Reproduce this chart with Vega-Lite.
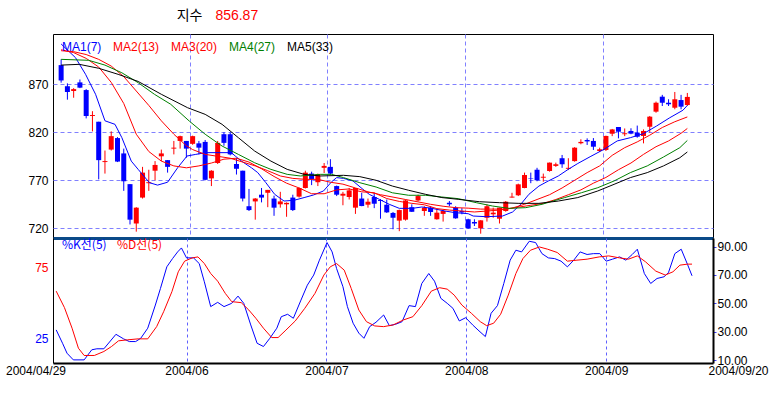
{
"$schema": "https://vega.github.io/schema/vega-lite/v6.json",
"padding": {"left": 5, "top": 8, "right": 0, "bottom": 0},
"bounds": "flush",
"spacing": 0,
"resolve": {"scale": {"color": "independent", "y": "independent"}, "legend": {"color": "independent"}},
"config": {
  "view": {"stroke": "black", "strokeWidth": 1},
  "font": "Liberation Sans",
  "axis": {"labelFont": "Liberation Sans", "labelFontSize": 12, "labelColor": "#000000", "title": null},
  "legend": {"labelFont": "Liberation Sans", "labelFontSize": 12}
},
"datasets": {
"candles": [
{"i":0,"o":890,"h":896,"l":871.7,"c":874},{"i":1,"o":868,"h":871,"l":854,"c":862},{"i":2,"o":863,"h":866,"l":856,"c":865},{"i":3,"o":872,"h":875,"l":866,"c":866.5},{"i":4,"o":864,"h":865,"l":834.5,"c":837},{"i":5,"o":837,"h":842,"l":821,"c":838},{"i":6,"o":831,"h":831,"l":771,"c":791},{"i":7,"o":789,"h":801,"l":777,"c":790},{"i":8,"o":802,"h":821,"l":801,"c":816},{"i":9,"o":814,"h":815,"l":789,"c":789.5},
{"i":10,"o":798,"h":803,"l":759,"c":769},{"i":11,"o":766,"h":766,"l":724,"c":729},{"i":12,"o":725,"h":742,"l":716.5,"c":741.5},{"i":13,"o":752,"h":784,"l":751,"c":778},{"i":14,"o":767,"h":781,"l":759,"c":768},{"i":15,"o":780,"h":790,"l":770,"c":786},{"i":16,"o":795,"h":802,"l":790,"c":798},{"i":17,"o":791,"h":791,"l":778,"c":784},{"i":18,"o":803,"h":811,"l":797,"c":804},{"i":19,"o":811,"h":816.5,"l":803,"c":816},
{"i":20,"o":811,"h":811,"l":793.5,"c":803},{"i":21,"o":808,"h":816.5,"l":807,"c":816},{"i":22,"o":808.5,"h":811,"l":797,"c":804},{"i":23,"o":810,"h":812,"l":770,"c":770.5},{"i":24,"o":772,"h":780.5,"l":764,"c":780},{"i":25,"o":788,"h":811,"l":787,"c":809},{"i":26,"o":818,"h":820,"l":806,"c":809},{"i":27,"o":818,"h":820,"l":796,"c":797},{"i":28,"o":787,"h":793,"l":776,"c":782},{"i":29,"o":780,"h":780,"l":748,"c":751},
{"i":30,"o":743,"h":761,"l":738,"c":739},{"i":31,"o":748,"h":751.5,"l":729,"c":751},{"i":32,"o":755,"h":762,"l":747,"c":752},{"i":33,"o":757,"h":760,"l":742,"c":760},{"i":34,"o":751,"h":754,"l":733,"c":741.5},{"i":35,"o":745,"h":758,"l":741.5,"c":748},{"i":36,"o":745,"h":747,"l":732,"c":746.5},{"i":37,"o":752,"h":755,"l":738,"c":739},{"i":38,"o":753,"h":762.5,"l":752,"c":762},{"i":39,"o":762,"h":780,"l":761.5,"c":778},
{"i":40,"o":777,"h":779,"l":765,"c":771},{"i":41,"o":768,"h":777,"l":764,"c":776.5},{"i":42,"o":783,"h":788,"l":777.6,"c":785},{"i":43,"o":784,"h":792,"l":776,"c":777},{"i":44,"o":764,"h":764.5,"l":753.6,"c":755},{"i":45,"o":754,"h":758,"l":744,"c":756},{"i":46,"o":752.6,"h":762,"l":750,"c":759.5},{"i":47,"o":741.5,"h":762,"l":735,"c":762},{"i":48,"o":751,"h":757,"l":743,"c":743.2},{"i":49,"o":744.6,"h":751,"l":741.5,"c":747.7},
{"i":50,"o":752.6,"h":757,"l":741,"c":745.6},{"i":51,"o":749.5,"h":750.5,"l":730,"c":748.5},{"i":52,"o":744.6,"h":750,"l":736,"c":736.6},{"i":53,"o":736,"h":737,"l":719,"c":731},{"i":54,"o":728,"h":739.5,"l":717,"c":739},{"i":55,"o":729,"h":750,"l":728,"c":749},{"i":56,"o":742,"h":745,"l":737,"c":737.2},{"i":57,"o":749,"h":755,"l":748,"c":753.6},{"i":58,"o":738,"h":743,"l":733,"c":741.5},{"i":59,"o":741.5,"h":743,"l":733,"c":737},
{"i":60,"o":729.4,"h":740,"l":729,"c":736.3},{"i":61,"o":735,"h":739,"l":727,"c":738},{"i":62,"o":746.6,"h":748.4,"l":743,"c":745},{"i":63,"o":741.5,"h":743,"l":730,"c":730.4},{"i":64,"o":738,"h":741,"l":734.6,"c":736.5},{"i":65,"o":729.4,"h":730,"l":719.5,"c":720},{"i":66,"o":726.6,"h":729.4,"l":722.4,"c":725},{"i":67,"o":720,"h":728.5,"l":714.4,"c":728.3},{"i":68,"o":731,"h":745,"l":727,"c":743},{"i":69,"o":734.6,"h":741.5,"l":731,"c":736.3},
{"i":70,"o":730,"h":741.5,"l":725,"c":741.5},{"i":71,"o":738,"h":748.4,"l":737.3,"c":747.7},{"i":72,"o":752,"h":757,"l":752,"c":753},{"i":73,"o":754.4,"h":766.5,"l":753.6,"c":765.8},{"i":74,"o":762,"h":778,"l":761.7,"c":775.5},{"i":75,"o":772,"h":778,"l":767,"c":771.5},{"i":76,"o":781,"h":783,"l":769,"c":770},{"i":77,"o":772.7,"h":777,"l":768.5,"c":773.7},{"i":78,"o":779.7,"h":788.5,"l":779,"c":788.4},{"i":79,"o":785,"h":788.4,"l":784,"c":786.7},
{"i":80,"o":793,"h":796.4,"l":783,"c":786.7},{"i":81,"o":782,"h":793,"l":780.7,"c":783},{"i":82,"o":790,"h":804.5,"l":789.4,"c":804},{"i":83,"o":808.6,"h":812.7,"l":807.5,"c":810},{"i":84,"o":812,"h":813.7,"l":806.8,"c":810.5},{"i":85,"o":811,"h":814,"l":801.6,"c":805},{"i":86,"o":800.5,"h":804,"l":799.5,"c":802.3},{"i":87,"o":801.6,"h":816.5,"l":800.5,"c":816.2},{"i":88,"o":818.5,"h":823.5,"l":816,"c":823},{"i":89,"o":825.5,"h":825.5,"l":813.7,"c":820.6},
{"i":90,"o":818,"h":824,"l":816,"c":819},{"i":91,"o":821.4,"h":824.2,"l":818,"c":818.6},{"i":92,"o":819.6,"h":827,"l":814.4,"c":815.4},{"i":93,"o":816.2,"h":823,"l":808.5,"c":821.4},{"i":94,"o":825.8,"h":837,"l":819.6,"c":836.3},{"i":95,"o":841.5,"h":852,"l":840.4,"c":850.8},{"i":96,"o":857.1,"h":859,"l":847.4,"c":850.8},{"i":97,"o":850.8,"h":854.4,"l":847.4,"c":849.2},{"i":98,"o":845.6,"h":862,"l":844,"c":854.4},{"i":99,"o":853.6,"h":859,"l":844,"c":846.7},
{"i":100,"o":848.4,"h":861,"l":847.4,"c":856.87}
],
"ma": [
{"s":"MA1(7)","i":0,"v":912},{"s":"MA1(7)","i":2.3,"v":897.7},{"s":"MA1(7)","i":3.9,"v":880.4},{"s":"MA1(7)","i":5.5,"v":859.6},{"s":"MA1(7)","i":7,"v":832},{"s":"MA1(7)","i":8.6,"v":828.3},{"s":"MA1(7)","i":9.7,"v":814.4},{"s":"MA1(7)","i":11.2,"v":790},{"s":"MA1(7)","i":12.3,"v":781.4},{"s":"MA1(7)","i":14.1,"v":767.5},{"s":"MA1(7)","i":15.4,"v":765},{"s":"MA1(7)","i":17,"v":768},{"s":"MA1(7)","i":18.6,"v":783},{"s":"MA1(7)","i":20.1,"v":795.3},{"s":"MA1(7)","i":21.5,"v":797},{"s":"MA1(7)","i":23.1,"v":798.8},{"s":"MA1(7)","i":27.2,"v":798.8},{"s":"MA1(7)","i":27.8,"v":795.3},{"s":"MA1(7)","i":28.8,"v":790},{"s":"MA1(7)","i":30.4,"v":783},{"s":"MA1(7)","i":31.4,"v":778},{"s":"MA1(7)","i":32.7,"v":767.5},{"s":"MA1(7)","i":34.1,"v":755.4},{"s":"MA1(7)","i":35.6,"v":748.4},{"s":"MA1(7)","i":37.2,"v":749.2},{"s":"MA1(7)","i":38.8,"v":752},{"s":"MA1(7)","i":40.3,"v":754.7},{"s":"MA1(7)","i":41.9,"v":758.9},{"s":"MA1(7)","i":43.2,"v":768.5},{"s":"MA1(7)","i":44,"v":772.8},{"s":"MA1(7)","i":45.1,"v":772},{"s":"MA1(7)","i":46.6,"v":769.3},{"s":"MA1(7)","i":48.2,"v":760.6},{"s":"MA1(7)","i":49.2,"v":755.4},{"s":"MA1(7)","i":50.8,"v":750.2},{"s":"MA1(7)","i":52.4,"v":745},{"s":"MA1(7)","i":54,"v":740.8},{"s":"MA1(7)","i":56.1,"v":740.8},{"s":"MA1(7)","i":57.6,"v":742.2},{"s":"MA1(7)","i":59.2,"v":740.8},{"s":"MA1(7)","i":61.3,"v":738},{"s":"MA1(7)","i":62.9,"v":736.3},{"s":"MA1(7)","i":65,"v":735.2},{"s":"MA1(7)","i":65.8,"v":732.8},{"s":"MA1(7)","i":67.9,"v":732.1},{"s":"MA1(7)","i":70.5,"v":732.8},{"s":"MA1(7)","i":72.1,"v":737},{"s":"MA1(7)","i":73.4,"v":745},{"s":"MA1(7)","i":74.7,"v":755.4},{"s":"MA1(7)","i":76.3,"v":764},{"s":"MA1(7)","i":77.8,"v":769.3},{"s":"MA1(7)","i":79.4,"v":774.5},{"s":"MA1(7)","i":81,"v":781.5},{"s":"MA1(7)","i":82.5,"v":787.5},{"s":"MA1(7)","i":84.6,"v":795},{"s":"MA1(7)","i":86.7,"v":802.3},{"s":"MA1(7)","i":88.8,"v":811},{"s":"MA1(7)","i":90.9,"v":814.4},{"s":"MA1(7)","i":93,"v":818.6},{"s":"MA1(7)","i":95.1,"v":826.6},{"s":"MA1(7)","i":97.2,"v":835.2},{"s":"MA1(7)","i":99.3,"v":843},{"s":"MA1(7)","i":100,"v":848},
{"s":"MA2(13)","i":0,"v":906},{"s":"MA2(13)","i":2,"v":903},{"s":"MA2(13)","i":4,"v":897},{"s":"MA2(13)","i":6,"v":888},{"s":"MA2(13)","i":8,"v":872},{"s":"MA2(13)","i":10,"v":850},{"s":"MA2(13)","i":12,"v":818},{"s":"MA2(13)","i":14,"v":800},{"s":"MA2(13)","i":16,"v":790},{"s":"MA2(13)","i":18,"v":785},{"s":"MA2(13)","i":20,"v":783},{"s":"MA2(13)","i":22,"v":785},{"s":"MA2(13)","i":24,"v":788},{"s":"MA2(13)","i":26,"v":792},{"s":"MA2(13)","i":28,"v":793},{"s":"MA2(13)","i":30,"v":789},{"s":"MA2(13)","i":32,"v":782},{"s":"MA2(13)","i":34,"v":774},{"s":"MA2(13)","i":36,"v":767},{"s":"MA2(13)","i":38,"v":762},{"s":"MA2(13)","i":40,"v":756},{"s":"MA2(13)","i":42,"v":756},{"s":"MA2(13)","i":44,"v":760},{"s":"MA2(13)","i":46,"v":761},{"s":"MA2(13)","i":48,"v":758},{"s":"MA2(13)","i":50,"v":757},{"s":"MA2(13)","i":52,"v":751},{"s":"MA2(13)","i":54,"v":748},{"s":"MA2(13)","i":56,"v":746},{"s":"MA2(13)","i":58,"v":744.5},{"s":"MA2(13)","i":60,"v":740.5},{"s":"MA2(13)","i":62,"v":739},{"s":"MA2(13)","i":64,"v":738},{"s":"MA2(13)","i":66,"v":737},{"s":"MA2(13)","i":68,"v":738},{"s":"MA2(13)","i":70,"v":739},{"s":"MA2(13)","i":72,"v":741},{"s":"MA2(13)","i":74,"v":745},{"s":"MA2(13)","i":76,"v":750},{"s":"MA2(13)","i":78,"v":755},{"s":"MA2(13)","i":80,"v":762},{"s":"MA2(13)","i":82,"v":770},{"s":"MA2(13)","i":84,"v":778},{"s":"MA2(13)","i":86,"v":785},{"s":"MA2(13)","i":88,"v":796},{"s":"MA2(13)","i":90,"v":804},{"s":"MA2(13)","i":92,"v":810},{"s":"MA2(13)","i":94,"v":817},{"s":"MA2(13)","i":96,"v":825},{"s":"MA2(13)","i":98,"v":831},{"s":"MA2(13)","i":100,"v":836},
{"s":"MA3(20)","i":0,"v":905},{"s":"MA3(20)","i":2,"v":904},{"s":"MA3(20)","i":4,"v":901},{"s":"MA3(20)","i":6,"v":896},{"s":"MA3(20)","i":8,"v":889},{"s":"MA3(20)","i":10,"v":878},{"s":"MA3(20)","i":12,"v":863},{"s":"MA3(20)","i":14,"v":848},{"s":"MA3(20)","i":16,"v":832},{"s":"MA3(20)","i":18,"v":818},{"s":"MA3(20)","i":20,"v":806},{"s":"MA3(20)","i":21,"v":802},{"s":"MA3(20)","i":23,"v":797},{"s":"MA3(20)","i":25,"v":795},{"s":"MA3(20)","i":27,"v":793},{"s":"MA3(20)","i":29,"v":789},{"s":"MA3(20)","i":31,"v":785},{"s":"MA3(20)","i":33,"v":780},{"s":"MA3(20)","i":35,"v":774.5},{"s":"MA3(20)","i":37,"v":772},{"s":"MA3(20)","i":39,"v":771},{"s":"MA3(20)","i":41,"v":771},{"s":"MA3(20)","i":43,"v":768},{"s":"MA3(20)","i":45,"v":766},{"s":"MA3(20)","i":47,"v":762},{"s":"MA3(20)","i":49,"v":758},{"s":"MA3(20)","i":51,"v":755},{"s":"MA3(20)","i":53,"v":752.5},{"s":"MA3(20)","i":55,"v":750},{"s":"MA3(20)","i":57,"v":747.5},{"s":"MA3(20)","i":59,"v":745},{"s":"MA3(20)","i":61,"v":743},{"s":"MA3(20)","i":63,"v":741.5},{"s":"MA3(20)","i":65,"v":741},{"s":"MA3(20)","i":67,"v":740},{"s":"MA3(20)","i":69,"v":740},{"s":"MA3(20)","i":71,"v":740},{"s":"MA3(20)","i":73,"v":742},{"s":"MA3(20)","i":75,"v":744},{"s":"MA3(20)","i":77,"v":746},{"s":"MA3(20)","i":79,"v":750},{"s":"MA3(20)","i":81,"v":755},{"s":"MA3(20)","i":83,"v":760},{"s":"MA3(20)","i":85,"v":767},{"s":"MA3(20)","i":87,"v":773},{"s":"MA3(20)","i":89,"v":781},{"s":"MA3(20)","i":91,"v":788},{"s":"MA3(20)","i":93,"v":797},{"s":"MA3(20)","i":95,"v":805},{"s":"MA3(20)","i":97,"v":811},{"s":"MA3(20)","i":99,"v":819},{"s":"MA3(20)","i":100,"v":824},
{"s":"MA4(27)","i":0,"v":896},{"s":"MA4(27)","i":4.4,"v":895},{"s":"MA4(27)","i":7,"v":890},{"s":"MA4(27)","i":9.7,"v":882},{"s":"MA4(27)","i":12.3,"v":871.7},{"s":"MA4(27)","i":14.9,"v":859.6},{"s":"MA4(27)","i":17.5,"v":849.2},{"s":"MA4(27)","i":20.5,"v":831.5},{"s":"MA4(27)","i":23,"v":818},{"s":"MA4(27)","i":25.7,"v":805.7},{"s":"MA4(27)","i":28.3,"v":797},{"s":"MA4(27)","i":30.9,"v":788.3},{"s":"MA4(27)","i":33.5,"v":781.4},{"s":"MA4(27)","i":36.1,"v":776.2},{"s":"MA4(27)","i":38.2,"v":774.5},{"s":"MA4(27)","i":41.4,"v":776.2},{"s":"MA4(27)","i":43.2,"v":776.2},{"s":"MA4(27)","i":45.1,"v":772.8},{"s":"MA4(27)","i":47.7,"v":767.5},{"s":"MA4(27)","i":50.3,"v":763},{"s":"MA4(27)","i":52.9,"v":757},{"s":"MA4(27)","i":55.5,"v":754.4},{"s":"MA4(27)","i":58.2,"v":754.4},{"s":"MA4(27)","i":60.8,"v":752.6},{"s":"MA4(27)","i":63.4,"v":750.9},{"s":"MA4(27)","i":66.3,"v":746.7},{"s":"MA4(27)","i":68.9,"v":743.2},{"s":"MA4(27)","i":71.5,"v":740.8},{"s":"MA4(27)","i":74.2,"v":741.5},{"s":"MA4(27)","i":76.8,"v":745},{"s":"MA4(27)","i":80.4,"v":752},{"s":"MA4(27)","i":83.1,"v":757.1},{"s":"MA4(27)","i":85.7,"v":762.3},{"s":"MA4(27)","i":88.3,"v":769.3},{"s":"MA4(27)","i":90.9,"v":778},{"s":"MA4(27)","i":93.6,"v":785},{"s":"MA4(27)","i":96.2,"v":794.3},{"s":"MA4(27)","i":98.8,"v":804},{"s":"MA4(27)","i":100,"v":811.5},
{"s":"MA5(33)","i":0,"v":890},{"s":"MA5(33)","i":2.9,"v":890.8},{"s":"MA5(33)","i":6,"v":886.7},{"s":"MA5(33)","i":9.1,"v":880.4},{"s":"MA5(33)","i":12.3,"v":873},{"s":"MA5(33)","i":16,"v":859.6},{"s":"MA5(33)","i":20.2,"v":845.6},{"s":"MA5(33)","i":23,"v":838.7},{"s":"MA5(33)","i":25.7,"v":828.3},{"s":"MA5(33)","i":28.3,"v":814.4},{"s":"MA5(33)","i":30.9,"v":800.5},{"s":"MA5(33)","i":33.5,"v":790},{"s":"MA5(33)","i":36.1,"v":781.4},{"s":"MA5(33)","i":38.8,"v":776.2},{"s":"MA5(33)","i":41.4,"v":774.5},{"s":"MA5(33)","i":45.1,"v":775.2},{"s":"MA5(33)","i":47.7,"v":773.8},{"s":"MA5(33)","i":50.3,"v":770},{"s":"MA5(33)","i":52.9,"v":764},{"s":"MA5(33)","i":55.5,"v":759.6},{"s":"MA5(33)","i":58.2,"v":755.4},{"s":"MA5(33)","i":60.8,"v":752},{"s":"MA5(33)","i":63.4,"v":750.2},{"s":"MA5(33)","i":66.8,"v":747.7},{"s":"MA5(33)","i":70,"v":746.7},{"s":"MA5(33)","i":73.1,"v":746},{"s":"MA5(33)","i":76.3,"v":746},{"s":"MA5(33)","i":79.4,"v":748.4},{"s":"MA5(33)","i":82.5,"v":752},{"s":"MA5(33)","i":85.7,"v":758.9},{"s":"MA5(33)","i":88.3,"v":765.8},{"s":"MA5(33)","i":90.9,"v":772.8},{"s":"MA5(33)","i":93.6,"v":778},{"s":"MA5(33)","i":96.2,"v":785},{"s":"MA5(33)","i":98.8,"v":793.5},{"s":"MA5(33)","i":100,"v":799.5}
],
"sto": [
{"s":"%K선(5)","i":0,"v":31.3},{"s":"%K선(5)","i":1,"v":21.9},{"s":"%K선(5)","i":1.7,"v":14.9},{"s":"%K선(5)","i":2.7,"v":10.2},{"s":"%K선(5)","i":4.4,"v":10.2},{"s":"%K선(5)","i":5.6,"v":17.3},{"s":"%K선(5)","i":6.4,"v":18},{"s":"%K선(5)","i":7.5,"v":18},{"s":"%K선(5)","i":9.4,"v":28.2},{"s":"%K선(5)","i":10.6,"v":25},{"s":"%K선(5)","i":11.5,"v":23.1},{"s":"%K선(5)","i":12.5,"v":23.1},{"s":"%K선(5)","i":13.3,"v":25.4},{"s":"%K선(5)","i":14.4,"v":32.5},{"s":"%K선(5)","i":15.6,"v":48.8},{"s":"%K선(5)","i":16.4,"v":60.5},{"s":"%K선(5)","i":17.4,"v":75.7},{"s":"%K선(5)","i":18.3,"v":81.5},{"s":"%K선(5)","i":19.1,"v":86.2},{"s":"%K선(5)","i":19.7,"v":89},{"s":"%K선(5)","i":20.5,"v":82},{"s":"%K선(5)","i":21.6,"v":82},{"s":"%K선(5)","i":22.5,"v":78},{"s":"%K선(5)","i":23.3,"v":65.2},{"s":"%K선(5)","i":24.3,"v":47.7},{"s":"%K선(5)","i":25.4,"v":50.7},{"s":"%K선(5)","i":26.4,"v":47.7},{"s":"%K선(5)","i":27.6,"v":50},{"s":"%K선(5)","i":28.6,"v":55.1},{"s":"%K선(5)","i":29.5,"v":50},{"s":"%K선(5)","i":30.6,"v":34.8},{"s":"%K선(5)","i":31.6,"v":21.9},{"s":"%K선(5)","i":32.6,"v":19.6},{"s":"%K선(5)","i":33.6,"v":25.4},{"s":"%K선(5)","i":34.7,"v":32.5},{"s":"%K선(5)","i":35.4,"v":40.6},{"s":"%K선(5)","i":36.4,"v":42.3},{"s":"%K선(5)","i":37.3,"v":39.5},{"s":"%K선(5)","i":38.5,"v":52.3},{"s":"%K선(5)","i":39.5,"v":62.8},{"s":"%K선(5)","i":40.5,"v":69.9},{"s":"%K선(5)","i":41.4,"v":80.4},{"s":"%K선(5)","i":42.6,"v":92.8},{"s":"%K선(5)","i":43.4,"v":86.2},{"s":"%K선(5)","i":44.1,"v":74.5},{"s":"%K선(5)","i":45.1,"v":61.7},{"s":"%K선(5)","i":45.8,"v":47.7},{"s":"%K선(5)","i":46.7,"v":36},{"s":"%K선(5)","i":47.6,"v":29},{"s":"%K선(5)","i":48.4,"v":25.4},{"s":"%K선(5)","i":49.3,"v":33.6},{"s":"%K선(5)","i":50.3,"v":36.7},{"s":"%K선(5)","i":51.5,"v":41.8},{"s":"%K선(5)","i":52.4,"v":34.3},{"s":"%K선(5)","i":53.4,"v":35.3},{"s":"%K선(5)","i":54.4,"v":37.1},{"s":"%K선(5)","i":55.5,"v":48.4},{"s":"%K선(5)","i":56.5,"v":47.7},{"s":"%K선(5)","i":57.5,"v":64},{"s":"%K선(5)","i":58.6,"v":71},{"s":"%K선(5)","i":59.5,"v":65.6},{"s":"%K선(5)","i":60.5,"v":53.5},{"s":"%K선(5)","i":61.5,"v":50},{"s":"%K선(5)","i":62.4,"v":46.5},{"s":"%K선(5)","i":63.4,"v":37.6},{"s":"%K선(5)","i":64.4,"v":39.9},{"s":"%K선(5)","i":65.5,"v":34.8},{"s":"%K선(5)","i":66.5,"v":30.6},{"s":"%K선(5)","i":67.5,"v":26.6},{"s":"%K선(5)","i":68.4,"v":43},{"s":"%K선(5)","i":69.4,"v":48.4},{"s":"%K선(5)","i":70.4,"v":64},{"s":"%K선(5)","i":71.4,"v":80.4},{"s":"%K선(5)","i":72.3,"v":87.4},{"s":"%K선(5)","i":73.2,"v":86.2},{"s":"%K선(5)","i":74.4,"v":93.7},{"s":"%K선(5)","i":75.4,"v":92.8},{"s":"%K선(5)","i":76.4,"v":85},{"s":"%K선(5)","i":77.4,"v":82},{"s":"%K선(5)","i":78.4,"v":81.5},{"s":"%K선(5)","i":79.4,"v":79.7},{"s":"%K선(5)","i":80.4,"v":75.7},{"s":"%K선(5)","i":81.4,"v":80.4},{"s":"%K선(5)","i":82.4,"v":86.2},{"s":"%K선(5)","i":83.5,"v":84.4},{"s":"%K선(5)","i":84.5,"v":85},{"s":"%K선(5)","i":85.5,"v":85},{"s":"%K선(5)","i":86.5,"v":79.7},{"s":"%K선(5)","i":87.5,"v":81.1},{"s":"%K선(5)","i":88.6,"v":82.7},{"s":"%K선(5)","i":89.6,"v":80.4},{"s":"%K선(5)","i":90.6,"v":84.4},{"s":"%K선(5)","i":91.4,"v":88.1},{"s":"%K선(5)","i":92.5,"v":71},{"s":"%K선(5)","i":93.5,"v":64},{"s":"%K선(5)","i":94.5,"v":67.5},{"s":"%K선(5)","i":95.6,"v":68.7},{"s":"%K선(5)","i":96.3,"v":71.7},{"s":"%K선(5)","i":97.3,"v":85},{"s":"%K선(5)","i":98.3,"v":88.1},{"s":"%K선(5)","i":99.3,"v":77.3},{"s":"%K선(5)","i":100,"v":69.4},
{"s":"%D선(5)","i":0,"v":58.6},{"s":"%D선(5)","i":1.3,"v":47},{"s":"%D선(5)","i":2.5,"v":32.5},{"s":"%D선(5)","i":3.5,"v":18.4},{"s":"%D선(5)","i":4.4,"v":13.3},{"s":"%D선(5)","i":6,"v":13.3},{"s":"%D선(5)","i":7.5,"v":16.1},{"s":"%D선(5)","i":8.7,"v":19.6},{"s":"%D선(5)","i":9.8,"v":23.6},{"s":"%D선(5)","i":11.2,"v":24.3},{"s":"%D선(5)","i":12.9,"v":25},{"s":"%D선(5)","i":14.4,"v":25},{"s":"%D선(5)","i":15.8,"v":33.6},{"s":"%D선(5)","i":16.9,"v":44.1},{"s":"%D선(5)","i":18.2,"v":58.2},{"s":"%D선(5)","i":19.2,"v":72.2},{"s":"%D선(5)","i":20.2,"v":79.7},{"s":"%D선(5)","i":21.4,"v":82},{"s":"%D선(5)","i":22.3,"v":82.7},{"s":"%D선(5)","i":23.3,"v":78},{"s":"%D선(5)","i":24.3,"v":71},{"s":"%D선(5)","i":25.4,"v":65.6},{"s":"%D선(5)","i":26.6,"v":57},{"s":"%D선(5)","i":27.6,"v":51.2},{"s":"%D선(5)","i":29.1,"v":50.5},{"s":"%D선(5)","i":30.3,"v":45.3},{"s":"%D선(5)","i":31.4,"v":39.5},{"s":"%D선(5)","i":32.6,"v":32.5},{"s":"%D선(5)","i":33.9,"v":25.9},{"s":"%D선(5)","i":34.9,"v":25.9},{"s":"%D선(5)","i":36,"v":30.6},{"s":"%D선(5)","i":37.6,"v":37.6},{"s":"%D선(5)","i":39.1,"v":46.5},{"s":"%D선(5)","i":40.7,"v":57},{"s":"%D선(5)","i":42.1,"v":69.9},{"s":"%D선(5)","i":43.1,"v":75.7},{"s":"%D선(5)","i":44.1,"v":78},{"s":"%D선(5)","i":45.3,"v":73.4},{"s":"%D선(5)","i":46.4,"v":60.5},{"s":"%D선(5)","i":47.6,"v":45.3},{"s":"%D선(5)","i":48.8,"v":37.1},{"s":"%D선(5)","i":50.1,"v":34.1},{"s":"%D선(5)","i":51.5,"v":33.6},{"s":"%D선(5)","i":53,"v":34.8},{"s":"%D선(5)","i":54.6,"v":38.3},{"s":"%D선(5)","i":56.1,"v":40.6},{"s":"%D선(5)","i":57.5,"v":48.4},{"s":"%D선(5)","i":59,"v":58.6},{"s":"%D선(5)","i":60.3,"v":61},{"s":"%D선(5)","i":61.5,"v":60},{"s":"%D선(5)","i":62.6,"v":55.8},{"s":"%D선(5)","i":63.8,"v":48.8},{"s":"%D선(5)","i":65.3,"v":43},{"s":"%D선(5)","i":66.7,"v":37.1},{"s":"%D선(5)","i":67.7,"v":34.3},{"s":"%D선(5)","i":68.8,"v":36},{"s":"%D선(5)","i":69.9,"v":42.3},{"s":"%D선(5)","i":71.1,"v":55.8},{"s":"%D선(5)","i":72.3,"v":71},{"s":"%D선(5)","i":73.4,"v":81.5},{"s":"%D선(5)","i":74.6,"v":87.4},{"s":"%D선(5)","i":76,"v":89.7},{"s":"%D선(5)","i":77.3,"v":88.1},{"s":"%D선(5)","i":78.8,"v":85.8},{"s":"%D선(5)","i":80.4,"v":79.7},{"s":"%D선(5)","i":81.9,"v":80.4},{"s":"%D선(5)","i":83.5,"v":81.1},{"s":"%D선(5)","i":85.4,"v":82.7},{"s":"%D선(5)","i":86.9,"v":83.4},{"s":"%D선(5)","i":88.6,"v":82},{"s":"%D선(5)","i":90,"v":81.1},{"s":"%D선(5)","i":91.4,"v":83.4},{"s":"%D선(5)","i":92.7,"v":79.2},{"s":"%D선(5)","i":94.3,"v":72.7},{"s":"%D선(5)","i":95.8,"v":69.9},{"s":"%D선(5)","i":97,"v":72.2},{"s":"%D선(5)","i":98.1,"v":76.9},{"s":"%D선(5)","i":99.3,"v":77.6},{"s":"%D선(5)","i":100,"v":77.6}
]
},
"vconcat": [
{
  "width": 660, "height": 204,
  "layer": [
    {
      "data": {"name": "candles"},
      "mark": {"type": "rule", "strokeWidth": 1},
      "encoding": {
        "x": {"field": "i", "type": "quantitative", "scale": {"domain": [-0.5, 103.3], "nice": false, "zero": false},
          "axis": {"orient": "bottom", "values": [20.5, 42.5, 64.5, 86.5], "labels": false, "ticks": false, "domainColor": "#0b4a88", "domainWidth": 3, "grid": true, "gridColor": "#8080ff", "gridDash": [4, 3], "gridWidth": 1}},
        "y": {"field": "l", "type": "quantitative", "scale": {"domain": [709.9, 922.4], "nice": false, "zero": false},
          "axis": {"orient": "left", "values": [720, 770, 820, 870], "ticks": false, "domain": false, "labelPadding": 5, "grid": true, "gridColor": "#8080ff", "gridDash": [4, 3], "gridWidth": 1}},
        "y2": {"field": "h"},
        "color": {"condition": {"test": "datum.c >= datum.o", "value": "#ff0000"}, "value": "#0000ff"}
      }
    },
    {
      "data": {"name": "candles"},
      "mark": {"type": "bar", "width": 5},
      "encoding": {
        "x": {"field": "i", "type": "quantitative", "scale": {"domain": [-0.5, 103.3], "nice": false, "zero": false}},
        "y": {"field": "o", "type": "quantitative", "scale": {"domain": [709.9, 922.4], "nice": false, "zero": false}},
        "y2": {"field": "c"},
        "color": {"condition": {"test": "datum.c >= datum.o", "value": "#ff0000"}, "value": "#0000ff"}
      }
    },
    {
      "data": {"name": "ma"},
      "mark": {"type": "line", "strokeWidth": 1},
      "encoding": {
        "x": {"field": "i", "type": "quantitative", "scale": {"domain": [-0.5, 103.3], "nice": false, "zero": false}},
        "y": {"field": "v", "type": "quantitative", "scale": {"domain": [709.9, 922.4], "nice": false, "zero": false}},
        "color": {"field": "s", "type": "nominal",
          "scale": {"domain": ["MA1(7)", "MA2(13)", "MA3(20)", "MA4(27)", "MA5(33)"], "range": ["#0000ff", "#ff0000", "#ff0000", "#008000", "#000000"]},
          "legend": {"orient": "none", "legendX": 11, "legendY": 7, "direction": "horizontal", "title": null, "symbolSize": 0, "symbolStrokeWidth": 0, "labelOffset": -14, "columnPadding": 11, "padding": 0,
            "encode": {"labels": {"update": {"fill": {"signal": "datum.value === 'MA1(7)' ? '#0000ff' : datum.value === 'MA4(27)' ? '#008000' : datum.value === 'MA5(33)' ? '#000000' : '#ff0000'"}}}}}
        }
      }
    },
    {
      "data": {"values": [{"t": "지수"}]},
      "mark": {"type": "text", "font": "Noto Sans CJK KR", "fontSize": 14, "color": "#000000", "baseline": "top"},
      "encoding": {"x": {"datum": 20.5, "type": "quantitative"}, "y": {"datum": 948.4, "type": "quantitative"}, "text": {"field": "t"}}
    },
    {
      "data": {"values": [{"t": "856.87"}]},
      "mark": {"type": "text", "font": "Liberation Sans", "fontSize": 14, "color": "#ff0000", "baseline": "top"},
      "encoding": {"x": {"datum": 28.05, "type": "quantitative"}, "y": {"datum": 948.4, "type": "quantitative"}, "text": {"field": "t"}}
    }
  ]
},
{
  "width": 660, "height": 125,
  "view": {"stroke": null},
  "resolve": {"axis": {"y": "independent"}},
  "layer": [
    {
      "data": {"name": "sto"},
      "mark": {"type": "line", "strokeWidth": 1},
      "encoding": {
        "x": {"field": "i", "type": "quantitative", "scale": {"domain": [-0.5, 103.3], "nice": false, "zero": false},
          "axis": {"orient": "bottom", "values": [20.5, 42.5, 64.5, 86.5],
            "labelExpr": "datum.value < 21 ? '2004/06' : datum.value < 43 ? '2004/07' : datum.value < 65 ? '2004/08' : '2004/09'",
            "ticks": false, "domainColor": "#000000", "domainWidth": 2, "labelPadding": 2, "labelFlush": false, "labelOverlap": false,
            "grid": true, "gridColor": "#6060ff", "gridDash": [3, 3], "gridWidth": 1}},
        "y": {"field": "v", "type": "quantitative", "scale": {"domain": [8, 96], "nice": false, "zero": false},
          "axis": {"orient": "right", "values": [10, 30, 50, 70, 90], "format": ".2f", "tickSize": 3, "tickColor": "#4040ff", "domainColor": "#000000", "domainWidth": 2, "labelPadding": 1, "grid": false}},
        "color": {"field": "s", "type": "nominal",
          "scale": {"domain": ["%K선(5)", "%D선(5)"], "range": ["#0000ff", "#ff0000"]},
          "legend": {"orient": "none", "legendX": 11, "legendY": 1, "direction": "horizontal", "title": null, "symbolSize": 0, "symbolStrokeWidth": 0, "labelOffset": -14, "columnPadding": 10, "padding": 0, "labelFont": "Noto Sans CJK KR",
            "encode": {"labels": {"update": {"fill": {"signal": "datum.value === '%K선(5)' ? '#0000ff' : '#ff0000'"}}}}}
        }
      }
    },
    {
      "mark": {"type": "rule", "color": "#ff0000", "strokeWidth": 1},
      "encoding": {"y": {"datum": 75, "type": "quantitative",
        "axis": {"orient": "left", "values": [25, 75], "ticks": false, "domain": true, "domainColor": "#000000", "domainWidth": 1, "labelPadding": 5, "grid": false,
          "labelColor": {"condition": {"test": "datum.value > 50", "value": "#ff0000"}, "value": "#0000ff"}}}}
    },
    {
      "mark": {"type": "rule", "color": "#0000ff", "strokeWidth": 1},
      "encoding": {"y": {"datum": 25, "type": "quantitative", "axis": null}}
    },
    {
      "data": {"values": [{"t": "2004/04/29"}]},
      "mark": {"type": "text", "font": "Liberation Sans", "fontSize": 12, "color": "#000000", "baseline": "middle", "align": "center", "dx": -17},
      "encoding": {"x": {"datum": -0.5, "type": "quantitative"}, "y": {"datum": 2.4, "type": "quantitative", "axis": null}, "text": {"field": "t"}}
    },
    {
      "data": {"values": [{"t": "2004/09/20"}]},
      "mark": {"type": "text", "font": "Liberation Sans", "fontSize": 12, "color": "#000000", "baseline": "middle", "align": "center", "dx": 25.5},
      "encoding": {"x": {"datum": 103.3, "type": "quantitative"}, "y": {"datum": 2.4, "type": "quantitative", "axis": null}, "text": {"field": "t"}}
    }
  ]
}
]
}
